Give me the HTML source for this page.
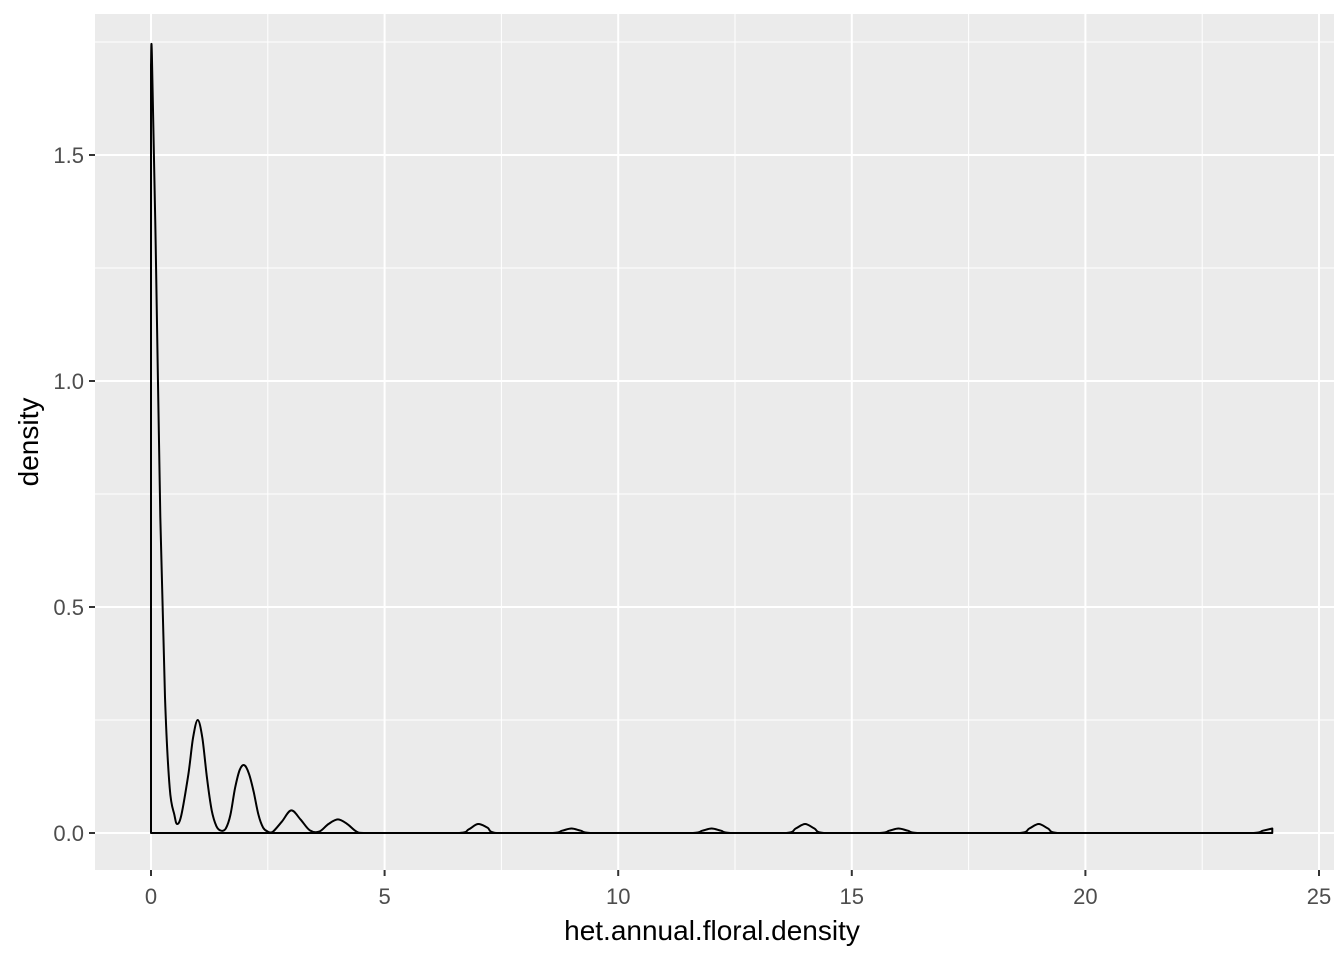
<!DOCTYPE html>
<html><head><meta charset="utf-8"><style>
body{margin:0;background:#fff}
svg text{font-family:"Liberation Sans",sans-serif}
</style></head><body>
<svg width="1344" height="960">
<rect x="95" y="14" width="1239" height="856" fill="#ebebeb"/>
<g id="grid"></g>
<path id="curve" fill="none" stroke="#000" stroke-width="2" stroke-linejoin="round"/>
<g id="axes"></g>
<text x="712" y="940" font-size="28" text-anchor="middle" fill="#000">het.annual.floral.density</text>
<text transform="translate(38,442) rotate(-90)" font-size="28" text-anchor="middle" fill="#000">density</text>
</svg>
<script>
const xVals=[0,0.02,0.1,0.2,0.3,0.4,0.5,0.56,0.65,0.8,0.9,1.0,1.1,1.2,1.3,1.4,1.5,1.6,1.7,1.8,1.9,2.0,2.1,2.2,2.3,2.4,2.5,2.6,2.8,3.0,3.2,3.4,3.6,3.8,4.0,4.2,4.4,4.6,6.6,6.8,7.0,7.2,7.4,8.6,8.8,9.0,9.2,9.4,11.6,11.8,12.0,12.2,12.4,13.6,13.8,14.0,14.2,14.4,15.6,15.8,16.0,16.2,16.4,18.6,18.8,19.0,19.2,19.4,23.6,23.8,24.0];
const yVals=[1.7,1.72,1.3,0.7,0.3,0.1,0.04,0.02,0.04,0.13,0.21,0.25,0.21,0.12,0.05,0.015,0.005,0.01,0.04,0.1,0.14,0.15,0.13,0.09,0.04,0.012,0.003,0.002,0.025,0.05,0.03,0.006,0.003,0.02,0.03,0.02,0.003,0,0,0.008,0.02,0.012,0,0,0.005,0.01,0.005,0,0,0.005,0.01,0.005,0,0,0.01,0.02,0.01,0,0,0.005,0.01,0.005,0,0,0.01,0.02,0.01,0,0,0.005,0.01];
const xTicks=[0,5,10,15,20,25];
const yTicks=[0,0.5,1.0,1.5];
const xTickLabels=["0","5","10","15","20","25"];
const yTickLabels=["0.0","0.5","1.0","1.5"];
const sx=v=>151+v*46.72, sy=v=>833-v*452;
const ns="http://www.w3.org/2000/svg";
const grid=document.getElementById('grid'), axes=document.getElementById('axes');
function line(p,x1,y1,x2,y2,w,c){const l=document.createElementNS(ns,'line');l.setAttribute('x1',x1);l.setAttribute('y1',y1);l.setAttribute('x2',x2);l.setAttribute('y2',y2);l.setAttribute('stroke',c);l.setAttribute('stroke-width',w);p.appendChild(l);return l;}
function txt(p,x,y,s,a){const t=document.createElementNS(ns,'text');t.setAttribute('x',x);t.setAttribute('y',y);t.setAttribute('font-size','22');t.setAttribute('fill','#4d4d4d');t.setAttribute('text-anchor',a);t.textContent=s;p.appendChild(t);return t;}
for(let i=0;i<xTicks.length-1;i++){const m=(xTicks[i]+xTicks[i+1])/2;const l=line(grid,sx(m),14,sx(m),870,1,'#fff');}
for(let i=0;i<yTicks.length;i++){const m=yTicks[i]+0.25;const l=line(grid,95,sy(m),1334,sy(m),1,'#fff');}
xTicks.forEach((v,i)=>{const l=line(grid,sx(v),14,sx(v),870,2,'#fff');
const k=line(axes,sx(v),870,sx(v),876,2,'#333');
const t=txt(axes,sx(v),904,xTickLabels[i],'middle');});
yTicks.forEach((v,i)=>{const l=line(grid,95,sy(v),1334,sy(v),2,'#fff');
const k=line(axes,89,sy(v),95,sy(v),2,'#333');
const t=txt(axes,84,sy(v)+8,yTickLabels[i],'end');});
const pts=xVals.map((x,i)=>[sx(x),sy(yVals[i])]);
const cl=(v,a,b)=>Math.max(Math.min(a,b),Math.min(Math.max(a,b),v));
let d='M'+sx(xVals[0])+','+sy(0)+' L'+pts[0][0]+','+pts[0][1];
for(let i=1;i<pts.length;i++){
  const p0=pts[Math.max(0,i-2)],p1=pts[i-1],p2=pts[i],p3=pts[Math.min(pts.length-1,i+1)];
  let c1x=cl(p1[0]+(p2[0]-p0[0])/6,p1[0],p2[0]),c1y=p1[1]+(p2[1]-p0[1])/6,c2x=cl(p2[0]-(p3[0]-p1[0])/6,p1[0],p2[0]),c2y=p2[1]-(p3[1]-p1[1])/6;
  c1y=Math.min(c1y,sy(0));c2y=Math.min(c2y,sy(0));
  d+=' C'+c1x.toFixed(1)+','+c1y.toFixed(1)+' '+c2x.toFixed(1)+','+c2y.toFixed(1)+' '+p2[0].toFixed(1)+','+p2[1].toFixed(1);
}
d+=' L'+sx(xVals[xVals.length-1])+','+sy(0)+' Z';
document.getElementById('curve').setAttribute('d',d);
</script>
</body></html>
